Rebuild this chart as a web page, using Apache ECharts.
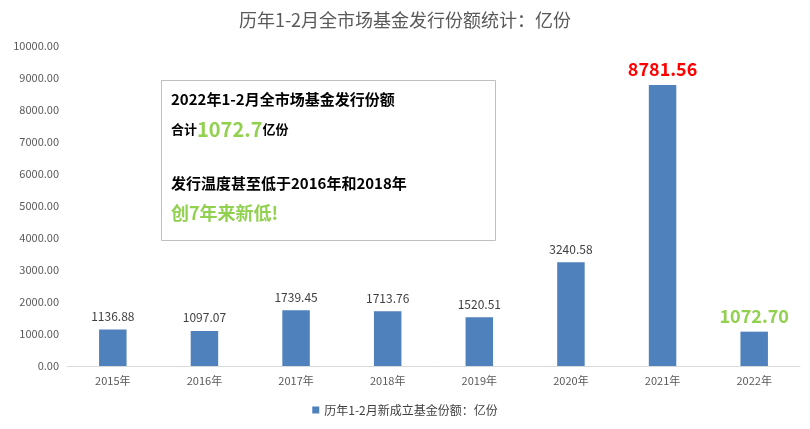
<!DOCTYPE html>
<html>
<head>
<meta charset="utf-8">
<script src="https://cdn.jsdelivr.net/npm/echarts@6/dist/echarts.min.js"></script>
<style>
html, body { margin: 0; padding: 0; background: #fff; }
#container { width: 810px; height: 429px; }
</style>
</head>
<body>
<div id="container"></div>
<script>
var years = ['2015年', '2016年', '2017年', '2018年', '2019年', '2020年', '2021年', '2022年'];
var shares = [1136.88, 1097.07, 1739.45, 1713.76, 1520.51, 3240.58, 8781.56, 1072.70];
var seriesName = '历年1-2月新成立基金份额：亿份';
var titleText = '历年1-2月全市场基金发行份额统计：亿份';

var dom = document.getElementById('container');
var myChart = echarts.init(dom);
var font = '"Noto Sans CJK SC", "Noto Sans", sans-serif';

var barData = shares.map(function (v, i) {
  var item = { value: v };
  if (i === 6) {
    item.label = { color: '#ff0000', fontSize: 18, fontWeight: 'bold' };
  } else if (i === 7) {
    item.label = { color: '#92d050', fontSize: 18, fontWeight: 'bold' };
  }
  return item;
});

var option = {
  textStyle: { fontFamily: font },
  title: {
    text: titleText,
    left: 'center',
    top: 6,
    textStyle: { fontSize: 18, fontWeight: 'normal', color: '#595959', fontFamily: font }
  },
  legend: {
    bottom: 8,
    left: 'center',
    itemWidth: 7,
    itemHeight: 7,
    textStyle: { fontSize: 12, color: '#404040' },
    data: [{ name: seriesName, icon: 'rect' }]
  },
  grid: { left: 67, right: 10, top: 46, bottom: 63 },
  xAxis: {
    type: 'category',
    data: years,
    axisLine: { lineStyle: { color: '#d9d9d9' } },
    axisTick: { show: false },
    axisLabel: { color: '#595959', fontSize: 11, margin: 9 }
  },
  yAxis: {
    type: 'value',
    min: 0,
    max: 10000,
    interval: 1000,
    splitLine: { show: false },
    axisLabel: {
      color: '#595959',
      fontSize: 11,
      formatter: function (v) { return v.toFixed(2); }
    }
  },
  series: [
    {
      name: seriesName,
      type: 'bar',
      barWidth: '30%',
      itemStyle: { color: '#4f81bd' },
      label: {
        show: true,
        position: 'top',
        distance: 7,
        color: '#404040',
        fontSize: 12,
        formatter: function (p) { return p.value.toFixed(2); }
      },
      data: barData
    }
  ],
  graphic: [
    {
      type: 'rect',
      left: 161,
      top: 80,
      shape: { width: 334, height: 160 },
      style: { fill: '#fff', stroke: '#bfbfbf', lineWidth: 1 },
      z: 10
    },
    {
      type: 'text',
      left: 171,
      top: 92,
      z: 11,
      style: {
        text: '{b|2022年1-2月全市场基金发行份额}\n{s|合计}{g|1072.7}{s|亿份}\n{e| }\n{b|发行温度甚至低于2016年和2018年}\n{gg|创7年来新低!}',
        rich: {
          b: { fontSize: 15, fontWeight: 'bold', fill: '#000', fontFamily: font, height: 30 },
          s: { fontSize: 13, fontWeight: 'bold', fill: '#000', fontFamily: font, height: 30 },
          g: { fontSize: 20, fontWeight: 'bold', fill: '#92d050', fontFamily: font, height: 30 },
          e: { fontSize: 13, height: 24 },
          gg: { fontSize: 18, fontWeight: 'bold', fill: '#92d050', fontFamily: font, height: 30 }
        }
      }
    }
  ]
};

if (option && typeof option === 'object') {
  myChart.setOption(option);
}
</script>
</body>
</html>
